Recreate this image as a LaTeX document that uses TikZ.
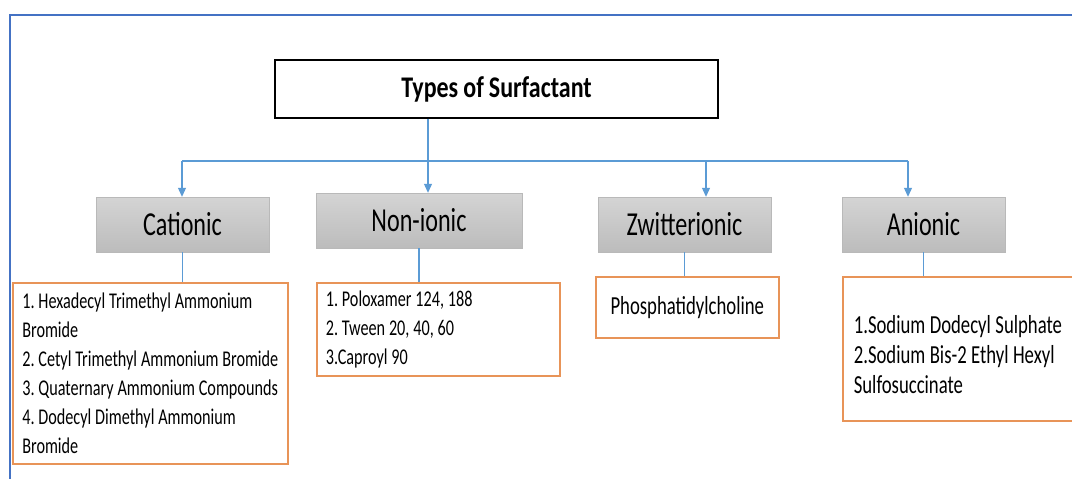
\documentclass[tikz,border=0pt]{standalone}
\usepackage{fontspec}
\setmainfont{Carlito}[FakeStretch=0.72]
\newfontfamily\headfont{Carlito}[FakeStretch=0.8]
\newcommand{\narrowsp}{\spaceskip=0.17em\relax\frenchspacing\hyphenpenalty=10000}
\usetikzlibrary{arrows.meta}
\definecolor{framebl}{RGB}{68,114,196}
\definecolor{linkbl}{RGB}{91,155,213}
\definecolor{listor}{RGB}{232,148,88}
\definecolor{kindtop}{RGB}{212,212,212}
\definecolor{kindbot}{RGB}{188,188,188}
\begin{document}
\begin{tikzpicture}[x=1pt,y=-1pt,
	head/.style={draw=black,line width=1.4pt,minimum width=443pt,minimum height=58pt,
		font=\headfont\bfseries\fontsize{30}{36}\selectfont\narrowsp},
	kind/.style={draw=gray!55,top color=kindtop,bottom color=kindbot,minimum height=55pt,
		inner sep=0pt,font=\fontsize{33.5}{40}\selectfont},
	items/.style={draw=listor,line width=1.6pt,align=flush left,inner xsep=9pt,inner ysep=0pt,
		anchor=north west,font=\fontsize{22.5}{29}\selectfont\narrowsp,
		execute at begin node=\narrowsp},
	link/.style={draw=linkbl,line width=1.1pt},
	arr/.style={link,-{Triangle[length=9pt,width=8pt]}}]
	\useasboundingbox (0,0) rectangle (1072,479);
	\draw[framebl,line width=2.6pt] (10,490) -- (10,15) -- (1090,15);
	
	\node[head] (types) at (496.5,89) {Types of Surfactant};
	
	\node[kind,minimum width=173pt] (cat) at (182.5,224.5) {Cationic};
	\node[kind,minimum width=206pt] (non) at (419,220.5) {Non-ionic};
	\node[kind,minimum width=173pt] (zwi) at (684.5,224.5) {Zwitterionic};
	\node[kind,minimum width=163pt] (ani) at (923.5,224.5) {Anionic};
	
	\node[items,minimum width=275pt,minimum height=181pt] (catlist) at (12,282)
		{1. Hexadecyl Trimethyl Ammonium\\Bromide\\2. Cetyl Trimethyl Ammonium Bromide\\
		3. Quaternary Ammonium Compounds\\4. Dodecyl Dimethyl Ammonium\\Bromide};
	\node[items,text width=225pt,minimum height=93pt] (nonlist) at (316,282)
		{1. Poloxamer 124, 188\\2. Tween 20, 40, 60\\3.Caproyl 90};
	\node[items,align=center,text width=165pt,minimum height=61pt,font=\fontsize{26}{30}\selectfont\narrowsp] (phos) at (595,276)
		{Phosphatidylcholine};
	\node[items,inner xsep=11pt,text width=236pt,minimum height=144pt,font=\fontsize{26}{30}\selectfont\narrowsp] (anilist) at (842,276)
		{\rule{0pt}{29pt}1.Sodium Dodecyl Sulphate\\2.Sodium Bis-2 Ethyl Hexyl\\Sulfosuccinate};
	
	% connectors
	\coordinate (hub) at (428,161);
	\coordinate (jc) at (182,161);
	\coordinate (jz) at (706,161);
	\coordinate (ja) at (908,161);
	\draw[link] (types.south -| hub) -- (hub);
	\draw[link] (jc) -- (ja);
	\draw[arr] (jc) -- (cat.north -| jc);
	\draw[arr] (hub) -- (non.north -| hub);
	\draw[arr] (jz) -- (zwi.north -| jz);
	\draw[arr] (ja) -- (ani.north -| ja);
	\draw[link] (cat.south) -- (cat.south |- catlist.north);
	\draw[link] (non.south) -- (non.south |- nonlist.north);
	\draw[link] (zwi.south) -- (zwi.south |- phos.north);
	\draw[link] (ani.south) -- (ani.south |- anilist.north);
\end{tikzpicture}
\end{document}
